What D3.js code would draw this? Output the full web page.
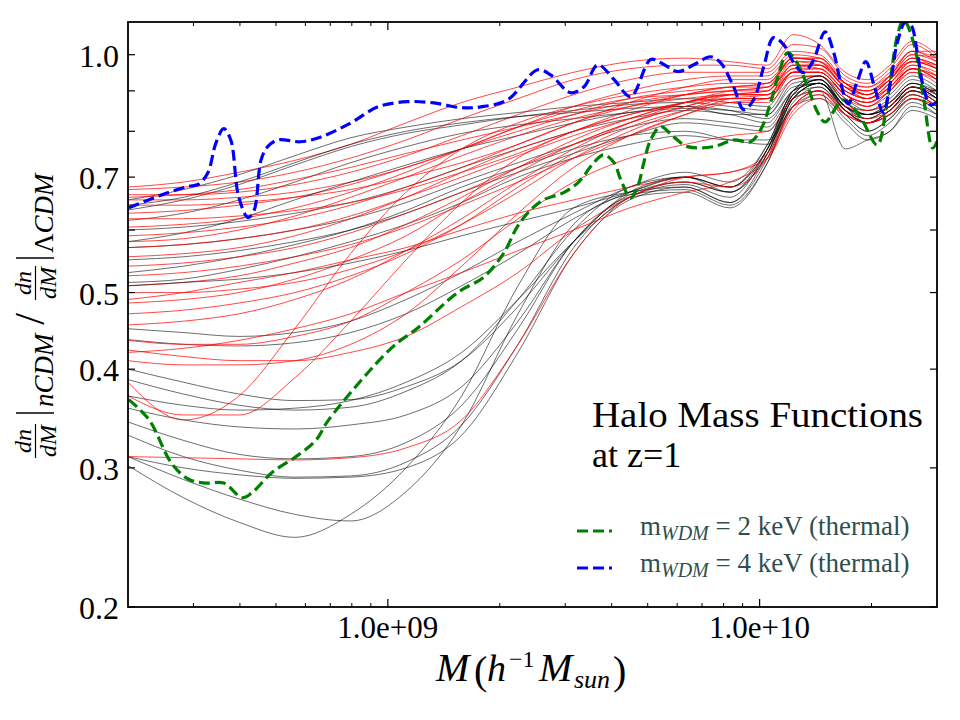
<!DOCTYPE html>
<html><head><meta charset="utf-8">
<script src="https://cdn.jsdelivr.net/npm/d3@7"></script>
<style>body{margin:0;background:#fff}svg{display:block}</style>
</head><body><svg id="chart" width="960" height="720"></svg>
<script>
// ---------- DATA ----------
const masses = [2.0e8, 2.82e8, 3.98e8, 5.62e8, 7.94e8, 1.12e9, 1.58e9, 2.24e9, 3.16e9, 4.47e9, 6.31e9, 8.32e9, 1.05e10, 1.23e10, 1.45e10, 1.70e10, 1.95e10, 2.24e10, 2.57e10, 3.0e10];

const redCurves = [
  [0.68,0.69,0.71,0.735,0.77,0.82,0.87,0.91,0.95,0.98,0.99,0.98,0.97,1.06,1.03,0.95,0.93,0.97,1.04,1.00],
  [0.675,0.68,0.69,0.71,0.74,0.78,0.83,0.88,0.93,0.96,0.97,0.97,0.96,1.03,1.02,0.94,0.92,0.96,1.03,0.99],
  [0.665,0.665,0.67,0.685,0.71,0.745,0.79,0.84,0.89,0.93,0.95,0.95,0.95,1.01,1.00,0.93,0.91,0.95,1.01,1.01],
  [0.655,0.655,0.66,0.67,0.69,0.72,0.76,0.81,0.86,0.90,0.93,0.94,0.94,1.00,0.99,0.92,0.90,0.94,1.00,0.98],
  [0.645,0.645,0.65,0.66,0.675,0.70,0.73,0.77,0.82,0.87,0.91,0.93,0.93,0.99,0.98,0.91,0.90,0.93,0.99,0.97],
  [0.63,0.635,0.645,0.66,0.685,0.72,0.76,0.80,0.84,0.88,0.90,0.91,0.92,0.98,0.97,0.91,0.89,0.93,0.98,0.96],
  [0.62,0.62,0.625,0.635,0.65,0.675,0.71,0.75,0.80,0.85,0.89,0.91,0.92,0.99,0.98,0.92,0.89,0.93,1.00,0.99],
  [0.605,0.61,0.62,0.64,0.67,0.71,0.76,0.81,0.85,0.88,0.89,0.90,0.90,0.97,0.96,0.90,0.88,0.92,0.97,0.95],
  [0.59,0.595,0.605,0.62,0.645,0.68,0.72,0.77,0.82,0.86,0.89,0.91,0.91,0.99,0.99,0.92,0.90,0.94,1.01,0.98],
  [0.57,0.575,0.585,0.60,0.625,0.66,0.70,0.745,0.79,0.83,0.87,0.89,0.90,0.97,0.97,0.91,0.88,0.92,0.98,0.96],
  [0.555,0.56,0.57,0.59,0.62,0.66,0.71,0.76,0.80,0.84,0.87,0.89,0.89,0.96,0.96,0.90,0.88,0.91,0.97,0.94],
  [0.54,0.545,0.555,0.57,0.595,0.63,0.67,0.72,0.77,0.82,0.86,0.89,0.90,0.98,0.98,0.92,0.89,0.93,0.99,0.97],
  [0.525,0.53,0.54,0.555,0.575,0.605,0.645,0.69,0.74,0.79,0.84,0.88,0.89,0.95,0.95,0.89,0.87,0.91,0.96,0.93],
  [0.51,0.515,0.525,0.545,0.57,0.61,0.66,0.72,0.78,0.83,0.87,0.89,0.89,0.97,0.97,0.91,0.88,0.92,0.98,0.96],
  [0.50,0.50,0.505,0.515,0.535,0.565,0.61,0.67,0.74,0.80,0.85,0.88,0.88,0.95,0.95,0.89,0.86,0.90,0.95,0.93],
  [0.485,0.49,0.50,0.52,0.55,0.59,0.65,0.71,0.77,0.82,0.86,0.88,0.88,0.94,0.94,0.88,0.86,0.90,0.96,0.94],
  [0.47,0.475,0.485,0.50,0.525,0.56,0.61,0.68,0.75,0.81,0.85,0.87,0.87,0.93,0.94,0.89,0.87,0.90,0.95,0.92],
  [0.385,0.345,0.37,0.45,0.56,0.67,0.76,0.82,0.86,0.89,0.91,0.92,0.92,0.99,0.98,0.91,0.89,0.93,0.99,0.96],
  [0.37,0.35,0.35,0.39,0.46,0.55,0.65,0.74,0.80,0.84,0.87,0.88,0.88,0.95,0.95,0.89,0.87,0.90,0.96,0.93],
  [0.41,0.405,0.405,0.41,0.43,0.47,0.54,0.63,0.72,0.79,0.84,0.87,0.88,0.95,0.95,0.89,0.87,0.91,0.96,0.93],
  [0.435,0.43,0.43,0.44,0.46,0.50,0.55,0.62,0.69,0.74,0.77,0.79,0.80,0.88,0.90,0.86,0.85,0.87,0.91,0.89],
  [0.423,0.415,0.41,0.41,0.42,0.44,0.48,0.53,0.60,0.66,0.70,0.71,0.74,0.84,0.88,0.84,0.82,0.84,0.88,0.86],
  [0.31,0.309,0.308,0.307,0.309,0.318,0.345,0.43,0.56,0.66,0.69,0.68,0.74,0.86,0.90,0.84,0.82,0.84,0.88,0.86],
  [0.49,0.50,0.515,0.53,0.55,0.57,0.60,0.63,0.655,0.68,0.70,0.71,0.75,0.86,0.90,0.85,0.83,0.86,0.90,0.87],
  [0.42,0.425,0.435,0.45,0.47,0.50,0.53,0.565,0.60,0.64,0.67,0.69,0.74,0.85,0.89,0.84,0.82,0.85,0.89,0.86],
  [0.66,0.665,0.675,0.695,0.72,0.75,0.78,0.81,0.84,0.87,0.89,0.90,0.91,0.96,0.97,0.92,0.91,0.94,0.98,0.97],
  [0.58,0.585,0.60,0.625,0.66,0.70,0.745,0.79,0.83,0.86,0.88,0.89,0.89,0.95,0.96,0.90,0.88,0.91,0.96,0.94],
  [0.455,0.46,0.47,0.49,0.52,0.565,0.62,0.69,0.76,0.82,0.87,0.90,0.91,0.99,0.99,0.92,0.89,0.94,1.01,0.99]
];

const blackCurves = [
  [0.655,0.675,0.705,0.745,0.785,0.81,0.83,0.845,0.86,0.87,0.88,0.87,0.86,0.95,0.95,0.89,0.86,0.89,0.94,0.91],
  [0.636,0.655,0.685,0.725,0.765,0.795,0.815,0.835,0.85,0.865,0.87,0.86,0.85,0.93,0.94,0.88,0.85,0.88,0.93,0.90],
  [0.617,0.63,0.655,0.69,0.73,0.765,0.795,0.815,0.83,0.845,0.855,0.85,0.84,0.92,0.93,0.87,0.84,0.87,0.92,0.89],
  [0.60,0.605,0.615,0.63,0.65,0.68,0.72,0.76,0.80,0.83,0.85,0.84,0.82,0.90,0.92,0.86,0.83,0.86,0.91,0.88],
  [0.57,0.575,0.585,0.60,0.62,0.65,0.69,0.73,0.77,0.81,0.83,0.82,0.81,0.89,0.91,0.85,0.82,0.85,0.90,0.87],
  [0.55,0.555,0.565,0.58,0.60,0.63,0.67,0.71,0.75,0.79,0.82,0.81,0.80,0.88,0.90,0.84,0.80,0.83,0.88,0.85],
  [0.515,0.52,0.535,0.555,0.58,0.61,0.65,0.70,0.74,0.77,0.79,0.78,0.78,0.86,0.89,0.83,0.79,0.82,0.87,0.84],
  [0.58,0.595,0.62,0.655,0.69,0.725,0.76,0.79,0.82,0.845,0.86,0.84,0.84,0.91,0.92,0.86,0.84,0.87,0.92,0.90],
  [0.645,0.66,0.69,0.73,0.77,0.80,0.82,0.835,0.845,0.855,0.86,0.85,0.83,0.90,0.92,0.86,0.84,0.86,0.91,0.90],
  [0.53,0.54,0.555,0.575,0.60,0.635,0.68,0.72,0.76,0.79,0.80,0.78,0.77,0.86,0.88,0.82,0.78,0.80,0.85,0.83],
  [0.302,0.275,0.256,0.245,0.262,0.30,0.37,0.51,0.64,0.67,0.68,0.65,0.74,0.88,0.92,0.86,0.82,0.84,0.89,0.86],
  [0.31,0.29,0.274,0.262,0.257,0.28,0.34,0.47,0.61,0.665,0.675,0.645,0.73,0.86,0.90,0.76,0.78,0.80,0.86,0.84],
  [0.31,0.30,0.294,0.291,0.292,0.30,0.33,0.42,0.56,0.655,0.68,0.65,0.75,0.89,0.93,0.85,0.82,0.85,0.90,0.87],
  [0.33,0.31,0.298,0.292,0.293,0.305,0.34,0.43,0.57,0.66,0.685,0.66,0.76,0.90,0.93,0.86,0.84,0.86,0.91,0.88],
  [0.343,0.325,0.312,0.308,0.31,0.323,0.36,0.45,0.58,0.66,0.67,0.64,0.73,0.87,0.91,0.84,0.80,0.83,0.88,0.85],
  [0.357,0.345,0.338,0.336,0.34,0.35,0.38,0.46,0.58,0.665,0.69,0.67,0.75,0.88,0.92,0.85,0.83,0.85,0.90,0.88],
  [0.40,0.385,0.372,0.365,0.366,0.38,0.41,0.48,0.58,0.67,0.70,0.68,0.77,0.90,0.94,0.87,0.85,0.87,0.92,0.89],
  [0.388,0.372,0.36,0.355,0.358,0.375,0.41,0.49,0.60,0.68,0.70,0.67,0.76,0.89,0.93,0.86,0.84,0.86,0.91,0.88],
  [0.45,0.445,0.44,0.445,0.46,0.49,0.53,0.58,0.63,0.68,0.71,0.69,0.77,0.90,0.94,0.87,0.84,0.86,0.91,0.89],
  [0.436,0.43,0.428,0.432,0.445,0.47,0.51,0.56,0.62,0.67,0.70,0.68,0.76,0.88,0.92,0.85,0.82,0.85,0.90,0.87],
  [0.51,0.515,0.52,0.53,0.545,0.565,0.59,0.615,0.64,0.67,0.70,0.68,0.76,0.89,0.93,0.86,0.83,0.86,0.91,0.88],
  [0.37,0.36,0.355,0.357,0.365,0.385,0.42,0.49,0.58,0.66,0.69,0.67,0.75,0.88,0.92,0.85,0.82,0.84,0.89,0.86]
];

const wdm2Mass = [2.01e8,2.28e8,2.62e8,2.92e8,3.24e8,3.62e8,4.06e8,4.31e8,4.88e8,5.66e8,6.40e8,6.93e8,1.02e9,1.21e9,1.54e9,1.81e9,2.05e9,2.23e9,2.42e9,2.62e9,2.97e9,3.26e9,3.58e9,3.81e9,4.06e9,4.23e9,4.50e9,4.70e9,4.88e9,5.09e9,5.42e9,5.87e9,6.40e9,7.52e9,8.51e9,9.46e9,1.007e10,1.07e10,1.12e10,1.19e10,1.26e10,1.35e10,1.43e10,1.50e10,1.68e10,1.87e10,2.07e10,2.21e10,2.35e10,2.44e10,2.59e10,2.76e10,2.92e10,3.0e10];
const wdm2Ratio = [0.366,0.345,0.304,0.290,0.287,0.287,0.275,0.279,0.296,0.310,0.325,0.345,0.425,0.452,0.500,0.523,0.561,0.606,0.636,0.655,0.669,0.690,0.730,0.747,0.730,0.695,0.659,0.681,0.730,0.780,0.811,0.787,0.765,0.765,0.780,0.776,0.804,0.869,0.938,1.006,0.977,0.908,0.847,0.822,0.877,0.832,0.769,0.882,1.060,1.107,1.039,0.882,0.762,0.776];

const wdm4Mass = [2.01e8,2.47e8,2.90e8,3.10e8,3.28e8,3.45e8,3.62e8,3.78e8,3.97e8,4.21e8,4.37e8,4.56e8,4.75e8,5.06e8,5.83e8,6.61e8,7.96e8,9.40e8,1.13e9,1.33e9,1.57e9,1.78e9,2.10e9,2.53e9,2.74e9,3.10e9,3.37e9,3.67e9,4.06e9,4.50e9,5.09e9,5.42e9,6.03e9,6.65e9,7.38e9,7.85e9,8.51e9,9.06e9,9.64e9,1.026e10,1.09e10,1.16e10,1.23e10,1.31e10,1.39e10,1.50e10,1.58e10,1.65e10,1.73e10,1.83e10,1.93e10,2.04e10,2.15e10,2.25e10,2.35e10,2.47e10,2.56e10,2.66e10,2.76e10,2.88e10,3.0e10];
const wdm4Ratio = [0.640,0.665,0.681,0.686,0.709,0.774,0.806,0.780,0.661,0.622,0.636,0.736,0.765,0.780,0.776,0.787,0.820,0.859,0.872,0.869,0.857,0.859,0.877,0.957,0.943,0.895,0.911,0.971,0.930,0.885,0.986,0.977,0.952,0.971,0.994,0.977,0.911,0.852,0.877,0.966,1.051,1.030,0.980,0.949,0.980,1.069,1.009,0.924,0.867,0.924,0.980,0.908,0.845,0.924,1.039,1.101,1.088,1.000,0.908,0.864,0.872];

const legendLabels = ["2", "4"];
const xMajorTicks = [1e9, 1e10];
const xTickLabels = ["1.0e+09", "1.0e+10"];
const xMinorTicks = [3e8,4e8,5e8,6e8,7e8,8e8,9e8,2e9,3e9,4e9,5e9,6e9,7e9,8e9,9e9,2e10];
const yTicks = [0.2,0.3,0.4,0.5,0.6,0.7,0.8,0.9,1.0];
const yTickLabels = ["0.2","0.3","0.4","0.5","","0.7","","","1.0"];

// ---------- LAYOUT ----------
const L = 128, R = 937, T = 22, B = 607;
const serif = "'Liberation Serif','DejaVu Serif',serif";
const svg = d3.select("#chart");
const x = d3.scaleLog().domain([2e8, 3e10]).range([L, R]);
const y = d3.scaleLog().domain([0.2, 1.10]).range([B, T]);

svg.append("defs").append("clipPath").attr("id","plotclip")
  .append("rect").attr("x",L).attr("y",T).attr("width",R-L).attr("height",B-T);

const plot = svg.append("g").attr("clip-path","url(#plotclip)");
const line = d3.line().curve(d3.curveMonotoneX);

const n = Math.max(redCurves.length, blackCurves.length);
for (let i = 0; i < n; i++) {
  if (blackCurves[i]) plot.append("path")
    .attr("d", line(masses.map((m,j)=>[x(m), y(blackCurves[i][j])])))
    .attr("fill","none").attr("stroke","#000").attr("stroke-width",0.8).attr("stroke-opacity",0.72);
  if (redCurves[i]) plot.append("path")
    .attr("d", line(masses.map((m,j)=>[x(m), y(redCurves[i][j])])))
    .attr("fill","none").attr("stroke","#ff0000").attr("stroke-width",0.85).attr("stroke-opacity",0.85);
}

const dashLine = d3.line().curve(d3.curveCatmullRom.alpha(0.5));
plot.append("path")
  .attr("d", dashLine(wdm2Mass.map((m,j)=>[x(m), y(wdm2Ratio[j])])))
  .attr("fill","none").attr("stroke","#008000").attr("stroke-width",3.2).attr("stroke-dasharray","11,5");
plot.append("path")
  .attr("d", dashLine(wdm4Mass.map((m,j)=>[x(m), y(wdm4Ratio[j])])))
  .attr("fill","none").attr("stroke","#0000ff").attr("stroke-width",3.2).attr("stroke-dasharray","11,5");

// ---------- AXES ----------
const ax = svg.append("g").attr("stroke","#000");
xMajorTicks.forEach(v=>{
  ax.append("line").attr("x1",x(v)).attr("x2",x(v)).attr("y1",B).attr("y2",B-8).attr("stroke-width",1.2);
  ax.append("line").attr("x1",x(v)).attr("x2",x(v)).attr("y1",T).attr("y2",T+8).attr("stroke-width",1.2);
});
xMinorTicks.forEach(v=>{
  ax.append("line").attr("x1",x(v)).attr("x2",x(v)).attr("y1",B).attr("y2",B-4).attr("stroke-width",1);
  ax.append("line").attr("x1",x(v)).attr("x2",x(v)).attr("y1",T).attr("y2",T+4).attr("stroke-width",1);
});
yTicks.forEach(v=>{
  ax.append("line").attr("x1",L).attr("x2",L+7).attr("y1",y(v)).attr("y2",y(v)).attr("stroke-width",1.2);
  ax.append("line").attr("x1",R).attr("x2",R-7).attr("y1",y(v)).attr("y2",y(v)).attr("stroke-width",1.2);
});
svg.append("rect").attr("x",L).attr("y",T).attr("width",R-L).attr("height",B-T)
  .attr("fill","none").attr("stroke","#000").attr("stroke-width",1.8);

xMajorTicks.forEach((v,i)=>{
  svg.append("text").attr("x",x(v)).attr("y",638).attr("text-anchor","middle")
    .attr("font-family",serif).attr("font-size",31).text(xTickLabels[i]);
});
yTicks.forEach((v,i)=>{
  if (!yTickLabels[i]) return;
  svg.append("text").attr("x",119).attr("y",y(v)+12).attr("text-anchor","end")
    .attr("font-family",serif).attr("font-size",32).text(yTickLabels[i]);
});

// x label
const xl = svg.append("g").attr("font-family",serif);
xl.append("text").attr("x",436).attr("y",681).attr("font-size",40).attr("font-style","italic").text("M");
xl.append("text").attr("x",474).attr("y",684).attr("font-size",40).text("(");
xl.append("text").attr("x",487).attr("y",681).attr("font-size",38).attr("font-style","italic").text("h");
xl.append("text").attr("x",509).attr("y",667).attr("font-size",24).text("\u22121");
xl.append("text").attr("x",539).attr("y",681).attr("font-size",40).attr("font-style","italic").text("M");
xl.append("text").attr("x",574).attr("y",688).attr("font-size",26).attr("font-style","italic").text("sun");
xl.append("text").attr("x",613).attr("y",684).attr("font-size",40).text(")");

// y label (rotated)
const yl = svg.append("g").attr("transform","translate(0,460) rotate(-90)").attr("font-family",serif);
function frac(cx){
  yl.append("text").attr("x",cx).attr("y",31).attr("text-anchor","middle").attr("font-size",24).attr("font-style","italic").text("dn");
  yl.append("line").attr("x1",cx-17).attr("x2",cx+17).attr("y1",35.5).attr("y2",35.5).attr("stroke","#000").attr("stroke-width",1.2);
  yl.append("text").attr("x",cx).attr("y",56).attr("text-anchor","middle").attr("font-size",24).attr("font-style","italic").text("dM");
}
frac(19);
yl.append("line").attr("x1",47).attr("x2",47).attr("y1",16).attr("y2",54).attr("stroke","#000").attr("stroke-width",1.4);
yl.append("text").attr("x",53).attr("y",53).attr("font-size",27).attr("font-style","italic").text("nCDM");
yl.append("text").attr("x",141).attr("y",44).attr("text-anchor","middle").attr("font-size",42).text("/");
frac(177);
yl.append("line").attr("x1",202).attr("x2",202).attr("y1",16).attr("y2",54).attr("stroke","#000").attr("stroke-width",1.4);
const lam = yl.append("text").attr("x",207).attr("y",53).attr("font-size",27);
lam.append("tspan").text("\u039B");
lam.append("tspan").attr("font-style","italic").text("CDM");

// annotation
svg.append("text").attr("x",592).attr("y",427).attr("font-family",serif).attr("font-size",36)
  .attr("textLength",331).attr("lengthAdjust","spacingAndGlyphs").text("Halo Mass Functions");
svg.append("text").attr("x",592).attr("y",467).attr("font-family",serif).attr("font-size",36).text("at z=1");

// legend
const legendColors = ["#008000","#0000ff"];
const legendY = [531, 568];
legendLabels.forEach((lab,i)=>{
  svg.append("line").attr("x1",577).attr("x2",612).attr("y1",legendY[i]).attr("y2",legendY[i])
    .attr("stroke",legendColors[i]).attr("stroke-width",3).attr("stroke-dasharray","11,5");
  const t = svg.append("text").attr("x",640).attr("y",legendY[i]+4).attr("font-family",serif)
    .attr("font-size",27).attr("fill","#2f4f4f");
  t.append("tspan").text("m");
  t.append("tspan").attr("font-size",20).attr("font-style","italic").attr("dy",5).text("WDM");
  t.append("tspan").attr("dy",-5).text(" = " + lab + " keV (thermal)");
});
</script>
</body></html>
